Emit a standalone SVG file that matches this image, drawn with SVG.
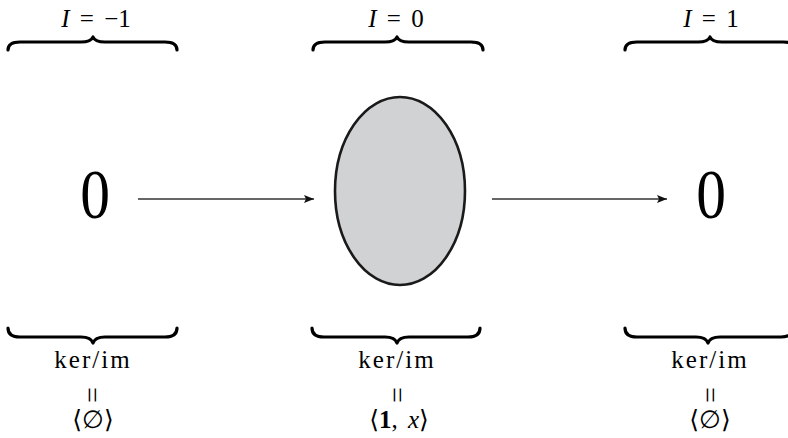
<svg xmlns="http://www.w3.org/2000/svg" width="788" height="438" viewBox="0 0 788 438">
<defs>
<style>
.t{font-family:"Liberation Serif","DejaVu Serif",serif;fill:#000;text-anchor:middle}
.lbl{font-size:25px;word-spacing:4px}
.ki{font-size:25px;letter-spacing:2px}
.big{font-size:70px}
.eq{font-size:28px}
.brace{fill:none;stroke:#000;stroke-width:3.2;stroke-linecap:round;stroke-linejoin:round}
.arr{stroke:#333;stroke-width:1.3;fill:none}
.it{font-style:italic}
.bf{font-weight:bold}
</style>
<marker id="ah" viewBox="0 0 10 8" refX="10" refY="4" markerWidth="10" markerHeight="8" markerUnits="userSpaceOnUse" orient="auto">
<path d="M0,0 L10,4 L0,8 L2,4 Z" fill="#111"/>
</marker>
</defs>
<rect width="788" height="438" fill="#fff"/>

<g id="node-left">
<text class="t lbl" x="96" y="27"><tspan class="it">I</tspan> = −1</text>
<path class="brace" d="M8,50 Q8,42 20,42 L81,42 Q91,42 93,37 Q95,42 105,42 L165,42 Q177,42 177,50"/>
<text class="t big" transform="translate(95,218) scale(0.85,1)">0</text>
<path class="brace" d="M8,328 Q8,337 20,337 L81,337 Q91,337 93,343 Q95,337 105,337 L165,337 Q177,337 177,328"/>
<text class="t ki" x="93" y="368">ker/im</text>
<text class="t eq" transform="translate(92,395) rotate(90)" y="9">=</text>
<text class="t lbl" x="93" y="428">⟨∅⟩</text>
</g>

<g id="node-center">
<text class="t lbl" x="396" y="27"><tspan class="it">I</tspan> = 0</text>
<path class="brace" d="M313,50 Q313,42 325,42 L385,42 Q395,42 397,37 Q399,42 409,42 L471,42 Q483,42 483,50"/>
<ellipse cx="400" cy="191" rx="65" ry="94" fill="#d1d2d4" stroke="#1a1a1a" stroke-width="2.6"/>
<path class="brace" d="M312,328 Q312,337 324,337 L385,337 Q395,337 397,343 Q399,337 409,337 L468,337 Q480,337 480,328"/>
<text class="t ki" x="397" y="368">ker/im</text>
<text class="t eq" transform="translate(397,395) rotate(90)" y="9">=</text>
<text class="t lbl" x="399" y="428">⟨<tspan class="bf">1</tspan>, <tspan class="it">x</tspan>⟩</text>
</g>

<g id="node-right">
<text class="t lbl" x="711" y="27"><tspan class="it">I</tspan> = 1</text>
<path class="brace" d="M625,50 Q625,42 637,42 L698,42 Q708,42 710,37 Q712,42 722,42 L783,42 Q795,42 795,50"/>
<text class="t big" transform="translate(711,218) scale(0.85,1)">0</text>
<path class="brace" d="M625,328 Q625,337 637,337 L696,337 Q706,337 708,343 Q710,337 720,337 L781,337 Q793,337 793,328"/>
<text class="t ki" x="710" y="368">ker/im</text>
<text class="t eq" transform="translate(710,395) rotate(90)" y="9">=</text>
<text class="t lbl" x="710" y="428">⟨∅⟩</text>
</g>

<g id="connectors">
<line class="arr" x1="138" y1="199" x2="314" y2="199" marker-end="url(#ah)"/>
<line class="arr" x1="492" y1="199" x2="667" y2="199" marker-end="url(#ah)"/>
</g>
</svg>
